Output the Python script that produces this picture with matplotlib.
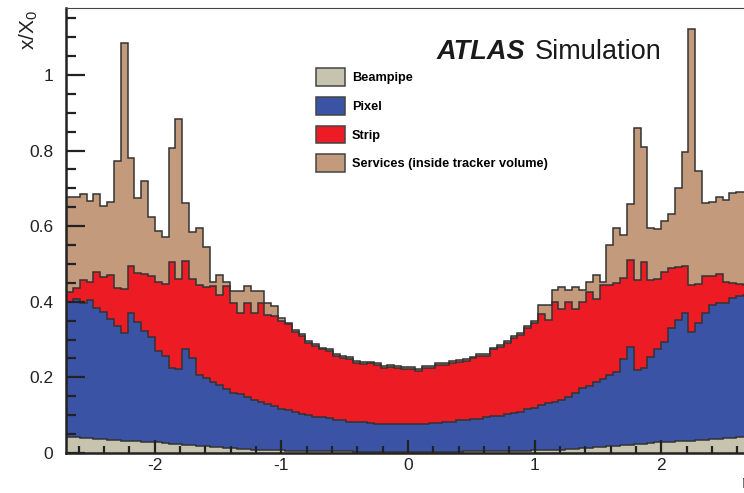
import numpy as np
import matplotlib
matplotlib.use("Agg")
import matplotlib.pyplot as plt
from matplotlib.patches import Patch

plt.rcParams["font.family"] = ["Liberation Sans", "DejaVu Sans"]
plt.rcParams["mathtext.fontset"] = "custom"
plt.rcParams["mathtext.rm"] = "Liberation Sans"
plt.rcParams["mathtext.it"] = "Liberation Sans:italic"
plt.rcParams["axes.unicode_minus"] = False

# material budget in radiation lengths, 100 eta bins over [-2.7, 2.7]
# each list is the cumulative level (top edge) of that layer in the stack
beampipe = [
    0.043, 0.042, 0.040, 0.039, 0.038, 0.037, 0.035, 0.034, 0.033, 0.032,
    0.031, 0.030, 0.029, 0.028, 0.026, 0.025, 0.024, 0.022, 0.021, 0.019,
    0.018, 0.016, 0.015, 0.013, 0.012, 0.011, 0.010, 0.009, 0.008, 0.008,
    0.007, 0.007, 0.006, 0.006, 0.005, 0.005, 0.005, 0.004, 0.004, 0.004,
    0.004, 0.004, 0.003, 0.003, 0.003, 0.003, 0.003, 0.003, 0.003, 0.003,
    0.003, 0.003, 0.003, 0.003, 0.003, 0.003, 0.003, 0.003, 0.004, 0.004,
    0.004, 0.004, 0.004, 0.005, 0.005, 0.005, 0.006, 0.006, 0.007, 0.007,
    0.008, 0.008, 0.009, 0.010, 0.011, 0.012, 0.013, 0.015, 0.016, 0.018,
    0.019, 0.021, 0.022, 0.024, 0.025, 0.026, 0.028, 0.029, 0.030, 0.031,
    0.032, 0.033, 0.034, 0.035, 0.037, 0.038, 0.039, 0.040, 0.042, 0.043,
]
pixel_top = [
    0.400, 0.407, 0.396, 0.405, 0.383, 0.374, 0.354, 0.336, 0.317, 0.370,
    0.347, 0.324, 0.308, 0.270, 0.257, 0.226, 0.222, 0.274, 0.250, 0.206,
    0.199, 0.189, 0.179, 0.169, 0.160, 0.155, 0.149, 0.140, 0.136, 0.130,
    0.123, 0.116, 0.114, 0.108, 0.103, 0.100, 0.096, 0.094, 0.092, 0.087,
    0.086, 0.083, 0.081, 0.081, 0.080, 0.077, 0.078, 0.078, 0.077, 0.077,
    0.078, 0.077, 0.077, 0.080, 0.080, 0.083, 0.083, 0.086, 0.086, 0.089,
    0.089, 0.094, 0.098, 0.099, 0.102, 0.105, 0.108, 0.116, 0.120, 0.127,
    0.131, 0.136, 0.140, 0.149, 0.158, 0.171, 0.177, 0.189, 0.195, 0.206,
    0.213, 0.248, 0.281, 0.220, 0.224, 0.253, 0.274, 0.294, 0.330, 0.352,
    0.371, 0.321, 0.345, 0.371, 0.392, 0.398, 0.398, 0.409, 0.415, 0.418,
]
strip_top = [
    0.425, 0.437, 0.458, 0.452, 0.479, 0.466, 0.470, 0.437, 0.433, 0.495,
    0.477, 0.473, 0.468, 0.452, 0.448, 0.506, 0.460, 0.509, 0.460, 0.444,
    0.440, 0.443, 0.419, 0.443, 0.398, 0.369, 0.398, 0.369, 0.398, 0.365,
    0.362, 0.350, 0.340, 0.320, 0.310, 0.291, 0.283, 0.274, 0.269, 0.256,
    0.252, 0.248, 0.238, 0.236, 0.237, 0.232, 0.225, 0.228, 0.225, 0.222,
    0.223, 0.217, 0.225, 0.225, 0.232, 0.232, 0.238, 0.241, 0.244, 0.250,
    0.256, 0.257, 0.274, 0.281, 0.292, 0.305, 0.313, 0.331, 0.344, 0.368,
    0.352, 0.399, 0.382, 0.399, 0.382, 0.399, 0.426, 0.408, 0.445, 0.445,
    0.449, 0.462, 0.511, 0.458, 0.506, 0.458, 0.460, 0.480, 0.489, 0.492,
    0.495, 0.444, 0.446, 0.468, 0.467, 0.474, 0.453, 0.449, 0.446, 0.445,
]
services_top = [
    0.678, 0.678, 0.684, 0.667, 0.684, 0.653, 0.663, 0.772, 1.085, 0.780,
    0.675, 0.720, 0.623, 0.587, 0.571, 0.808, 0.884, 0.662, 0.584, 0.595,
    0.546, 0.451, 0.470, 0.451, 0.428, 0.428, 0.442, 0.428, 0.428, 0.398,
    0.388, 0.356, 0.345, 0.325, 0.315, 0.296, 0.288, 0.279, 0.274, 0.261,
    0.257, 0.253, 0.243, 0.241, 0.242, 0.237, 0.230, 0.233, 0.230, 0.227,
    0.228, 0.222, 0.230, 0.230, 0.237, 0.237, 0.243, 0.246, 0.249, 0.255,
    0.261, 0.262, 0.279, 0.286, 0.297, 0.310, 0.318, 0.336, 0.349, 0.392,
    0.392, 0.430, 0.439, 0.430, 0.439, 0.430, 0.451, 0.472, 0.451, 0.550,
    0.594, 0.577, 0.659, 0.859, 0.810, 0.594, 0.592, 0.614, 0.631, 0.700,
    0.797, 1.121, 0.746, 0.662, 0.663, 0.678, 0.668, 0.687, 0.691, 0.690,
]

layer_names = ["Beampipe", "Pixel", "Strip", "Services (inside tracker volume)"]
layer_colors = ["#c6c4ae", "#3a53a4", "#ed1c24", "#c49a7c"]

edges = np.linspace(-2.7, 2.7, len(services_top) + 1)
outline = "#333333"

fig = plt.figure(figsize=(7.44, 4.93), dpi=100)
# axes runs a little past the right border of the canvas
ax = fig.add_axes([66 / 744, 40 / 493, 684 / 744, 445 / 493])

# draw the stack from the total down, like THStack
levels = [beampipe, pixel_top, strip_top, services_top]
for top, color in zip(levels[::-1], layer_colors[::-1]):
    ax.stairs(top, edges, baseline=0, fill=True, facecolor=color,
              edgecolor="none", zorder=1)
    ax.stairs(top, edges, baseline=None, color=outline, linewidth=1.1,
              zorder=1.5)

ax.set_xlim(-2.7, 2.7)
ax.set_ylim(0, 1.177)

ax.set_xticks([-2, -1, 0, 1, 2])
ax.set_xticks(np.arange(-2.6, 2.7, 0.2), minor=True)
ax.set_yticks([0, 0.2, 0.4, 0.6, 0.8, 1.0])
ax.set_yticks(np.arange(0, 1.17, 0.05), minor=True)
ax.set_yticklabels(["0", "0.2", "0.4", "0.6", "0.8", "1"])
ax.set_xticklabels(["-2", "-1", "0", "1", "2"])

ax.tick_params(axis="both", which="both", direction="in", colors="#222222",
               top=False, right=False, labelsize=12.5, width=1.6)
ax.tick_params(axis="y", which="major", length=13.5, pad=9)
ax.tick_params(axis="y", which="minor", length=7)
ax.tick_params(axis="x", which="major", length=9.5, pad=3.5)
ax.tick_params(axis="x", which="minor", length=5)

for side in ["left", "bottom"]:
    ax.spines[side].set_linewidth(1.8)
    ax.spines[side].set_color("#222222")
ax.spines["top"].set_linewidth(0.8)
ax.spines["top"].set_color("#444444")

fig.text(29 / 744, 1 - 10 / 493, "x/X$_0$", rotation=90, ha="center",
         va="top", fontsize=15, color="#222222")
# axis title sits mostly beyond the right border
fig.text(742 / 744, 1 - 483 / 493, "η", ha="left", va="center",
         fontsize=14, color="#222222")

fig.text(437 / 744, 1 - 59 / 493, "ATLAS", fontsize=19.5, fontweight="bold",
         fontstyle="italic", ha="left", va="baseline", color="#1a1a1a")
fig.text(535 / 744, 1 - 59 / 493, "Simulation", fontsize=19.5,
         ha="left", va="baseline", color="#1a1a1a")

handles = [Patch(facecolor=c, edgecolor="#444444", linewidth=1.1)
           for c in layer_colors]
ax.legend(handles, layer_names, loc="upper left",
          bbox_to_anchor=(316 / 744, 1 - 68.5 / 493),
          bbox_transform=fig.transFigure, frameon=False,
          prop={"weight": "bold", "size": 9.2},
          handlelength=2.3, handleheight=1.75, handletextpad=0.5,
          labelspacing=0.85, borderpad=0, borderaxespad=0)

fig.savefig("out.png", dpi=100)
